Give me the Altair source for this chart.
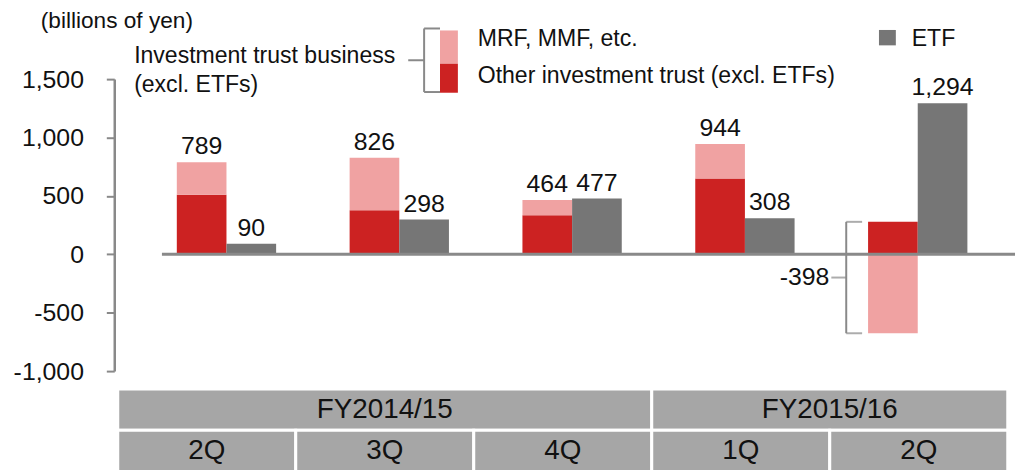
import altair as alt
import pandas as pd

# ---------------- data ----------------
quarter_labels = ["2Q", "3Q", "4Q", "1Q", "2Q"]
quarter_keys = ["FY2014/15 2Q", "FY2014/15 3Q", "FY2014/15 4Q", "FY2015/16 1Q", "FY2015/16 2Q"]
fiscal_years = ["FY2014/15", "FY2015/16"]
quarters_per_fy = [3, 2]
other_it = [511, 377, 335, 650, 278]
mrf_mmf = [278, 449, 129, 294, -676]
etf = [90, 298, 477, 308, 1294]
it_total_labels = [789, 826, 464, 944, -398]
y_tick_values = [-1000, -500, 0, 500, 1000, 1500]

RED = "#cc2222"
PINK = "#f0a2a2"
GRAY = "#767676"
AXIS = "#898989"
CELL = "#a6a6a6"
TXT = "#111111"
FONT = "Liberation Sans"

W, H = 897, 294

# bar table
rows = []
for i, k in enumerate(quarter_keys):
    rows.append(dict(key=k, kind="IT", series="Other", order=0, value=other_it[i]))
    rows.append(dict(key=k, kind="IT", series="MRF", order=1, value=mrf_mmf[i]))
    rows.append(dict(key=k, kind="ETF", series="ETF", order=0, value=etf[i]))
bars_df = pd.DataFrame(rows)

# label table
lab_rows = []
for i, k in enumerate(quarter_keys):
    if it_total_labels[i] > 0:
        lab_rows.append(dict(key=k, kind="IT", value=it_total_labels[i], label=f"{it_total_labels[i]:,}"))
    lab_rows.append(dict(key=k, kind="ETF", value=etf[i], label=f"{etf[i]:,}"))
labels_df = pd.DataFrame(lab_rows)

neg_rows = []
for i, k in enumerate(quarter_keys):
    if it_total_labels[i] < 0:
        top_v = max(other_it[i], 0)
        bot_v = min(mrf_mmf[i], 0)
        neg_rows.append(dict(key=k, kind="IT", top=top_v, bottom=bot_v,
                             mid=(top_v + bot_v) / 2, label=f"{it_total_labels[i]:,}"))
neg_df = pd.DataFrame(neg_rows)

# table cells
cell_rows = []
start = 0
for fy, n in zip(fiscal_years, quarters_per_fy):
    cell_rows.append(dict(row="FY", label=fy, start=start, end=start + n))
    start += n
for i, q in enumerate(quarter_labels):
    cell_rows.append(dict(row="Q", label=q, start=i, end=i + 1))
cell_df = pd.DataFrame(cell_rows)

# ---------------- scales ----------------
x_scale = alt.Scale(domain=quarter_keys, paddingInner=0.4253, paddingOuter=0.29, align=0.624)
xo_scale = alt.Scale(domain=["IT", "ETF"], paddingInner=0, paddingOuter=0)
y_scale = alt.Scale(domain=[-1000, 1500], nice=False, zero=False)
y_axis = alt.Axis(
    values=y_tick_values,
    labelExpr="replace(format(datum.value, ','), '\u2212', '-')",
    labelFontSize=25, labelColor=TXT, labelFont=FONT, labelPadding=23,
    tickSize=8, tickColor=AXIS, tickWidth=2,
    domainColor=AXIS, domainWidth=2.5, grid=False, title=None,
)


def Y(field):
    return alt.Y(field, scale=y_scale, axis=y_axis, title=None)


def X():
    return alt.X("key:N", scale=x_scale, axis=None, sort=quarter_keys)


def XO():
    return alt.XOffset("kind:N", scale=xo_scale, sort=["IT", "ETF"])


color = alt.Color("series:N", scale=alt.Scale(domain=["Other", "MRF", "ETF"], range=[RED, PINK, GRAY]), legend=None)

bars = alt.Chart(bars_df).transform_stack(
    stack="value", groupby=["key", "kind"], as_=["v0", "v1"],
    sort=[alt.SortField(field="order", order="ascending")],
).mark_bar().encode(x=X(), xOffset=XO(), y=Y("v0:Q"), y2="v1:Q", color=color)

zero = alt.Chart(pd.DataFrame({"v": [0]})).mark_rule(color=AXIS, strokeWidth=3).encode(
    y=Y("v:Q"), x=alt.value(48), x2=alt.value(907))

labels = alt.Chart(labels_df).mark_text(baseline="alphabetic", dy=-8, fontSize=25, color=TXT).encode(
    x=X(), xOffset=XO(), y=Y("value:Q"), text="label:N")

neg_label = alt.Chart(neg_df).mark_text(align="right", baseline="middle", dx=-64, fontSize=25, color=TXT).encode(
    x=X(), xOffset=XO(), y=Y("mid:Q"), text="label:N")

brace_v = alt.Chart(neg_df).mark_rule(color=AXIS, strokeWidth=2, xOffset=-72).encode(
    x=X(), y=Y("top:Q"), y2="bottom:Q")
brace_t = alt.Chart(neg_df).mark_tick(color=AXIS, thickness=2, size=16, xOffset=-64).encode(x=X(), y=Y("top:Q"))
brace_b = alt.Chart(neg_df).mark_tick(color=AXIS, thickness=2, size=16, xOffset=-64).encode(x=X(), y=Y("bottom:Q"))
brace_m = alt.Chart(neg_df).mark_tick(color=AXIS, thickness=2, size=15, xOffset=-79.5).encode(x=X(), y=Y("mid:Q"))


def txt(label, x, y, size=23.2):
    return alt.Chart(pd.DataFrame({"t": [label]})).mark_text(
        align="left", baseline="middle", fontSize=size, color=TXT).encode(
        x=alt.value(x), y=alt.value(y), text="t:N")


def rule(x, x2, y, y2):
    return alt.Chart(pd.DataFrame({"t": [0]})).mark_rule(color=AXIS, strokeWidth=2).encode(
        x=alt.value(x), x2=alt.value(x2), y=alt.value(y), y2=alt.value(y2))


def swatch(x, x2, y, y2, c):
    return alt.Chart(pd.DataFrame({"t": [0]})).mark_rect(color=c).encode(
        x=alt.value(x), x2=alt.value(x2), y=alt.value(y), y2=alt.value(y2))


legend_layers = [
    txt("(billions of yen)", -74, -58, 22.8),
    txt("Investment trust business", 20, -23),
    txt("(excl. ETFs)", 20, 6),
    rule(312, 312, -51, 13),
    rule(312, 328, -51, -51),
    rule(312, 328, 13, 13),
    rule(296, 312, -19, -19),
    swatch(328, 346, -49, -15.5, PINK),
    swatch(328, 346, -15.5, 13.7, RED),
    txt("MRF, MMF, etc.", 366, -40),
    txt("Other investment trust (excl. ETFs)", 366, -3),
    swatch(770, 787, -49.5, -34, GRAY),
    txt("ETF", 803, -40),
]

top = alt.layer(bars, zero, labels, neg_label, brace_v, brace_t, brace_b, brace_m, *legend_layers).properties(
    width=W, height=H)

tx_scale = alt.Scale(domain=[-0.0196, 4.985], nice=False, zero=False)
ty = alt.Y("row:N", sort=["FY", "Q"], scale=alt.Scale(domain=["FY", "Q"], paddingInner=0, paddingOuter=0), axis=None)
cells = alt.Chart(cell_df).mark_rect(color=CELL, stroke="white", strokeWidth=3).encode(
    x=alt.X("start:Q", scale=tx_scale, axis=None), x2="end:Q", y=ty)
cell_text = alt.Chart(cell_df).transform_calculate(mid="(datum.start + datum.end) / 2").mark_text(
    fontSize=28, color=TXT, baseline="middle").encode(
    x=alt.X("mid:Q", scale=tx_scale, axis=None), y=ty, text="label:N")
bottom = alt.layer(cells, cell_text).properties(width=W, height=83)

chart = alt.vconcat(top, bottom, spacing=18, bounds="flush").properties(
    padding={"left": 5, "top": 1, "right": 0, "bottom": 0}
).configure(font=FONT).configure_view(stroke=None)

chart.save("out.html", embed_options={"renderer": "svg", "actions": False})
